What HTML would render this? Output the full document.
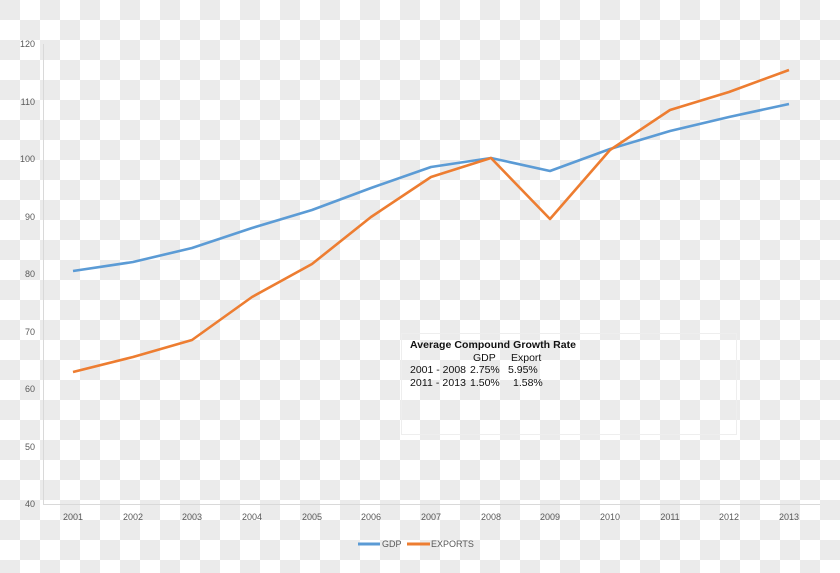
<!DOCTYPE html>
<html><head><style>
body{margin:0;width:840px;height:573px;overflow:hidden;
background:repeating-conic-gradient(#ffffff 0 25%, #ebebeb 0 50%) 0 0/40px 40px;}
svg{position:absolute;left:0;top:0}
</style></head><body>
<svg width="840" height="573" font-family="Liberation Sans, sans-serif">
<g stroke="#d9d9d9" stroke-width="1" fill="none">
<line x1="43.5" y1="44" x2="43.5" y2="504"/>
<line x1="43" y1="504.5" x2="820" y2="504.5"/>
<rect x="401.5" y="333.5" width="335" height="101" stroke="#eeeeee"/>
</g>
<g font-size="9" fill="#595959" text-anchor="end">
<text x="35" y="47">120</text><text x="35" y="105">110</text><text x="35" y="162">100</text>
<text x="35" y="220">90</text><text x="35" y="277">80</text><text x="35" y="335">70</text>
<text x="35" y="392">60</text><text x="35" y="450">50</text><text x="35" y="507">40</text>
</g>
<g font-size="9" fill="#595959" text-anchor="middle">
<text x="73" y="520">2001</text><text x="133" y="520">2002</text><text x="192" y="520">2003</text>
<text x="252" y="520">2004</text><text x="312" y="520">2005</text><text x="371" y="520">2006</text>
<text x="431" y="520">2007</text><text x="491" y="520">2008</text><text x="550" y="520">2009</text>
<text x="610" y="520">2010</text><text x="670" y="520">2011</text><text x="729" y="520">2012</text>
<text x="789" y="520">2013</text>
</g>
<polyline fill="none" stroke="#5b9bd5" stroke-width="2.6" stroke-linejoin="round" points="73,271 133,262 192,248 252,228 312,210 371,188 431,167 491,158 550,171 610,149 670,131 729,117 789,104"/>
<polyline fill="none" stroke="#ed7d31" stroke-width="2.6" stroke-linejoin="round" points="73,372 133,357 192,340 252,297 312,264 371,217 431,177 491,158 550,219 610,150 670,110 729,92 789,70"/>
<g font-size="10.5" fill="#111">
<text x="410" y="348" font-weight="bold" textLength="166">Average Compound Growth Rate</text>
<text x="473" y="361">GDP</text><text x="511" y="361">Export</text>
<text x="410" y="373" textLength="56">2001 - 2008</text><text x="470" y="373">2.75%</text><text x="508" y="373">5.95%</text>
<text x="410" y="386" textLength="56">2011 - 2013</text><text x="470" y="386">1.50%</text><text x="513" y="386">1.58%</text>
</g>
<line x1="358" y1="544" x2="380" y2="544" stroke="#5b9bd5" stroke-width="3"/>
<text x="382" y="547" font-size="9" fill="#595959">GDP</text>
<line x1="407" y1="544" x2="430" y2="544" stroke="#ed7d31" stroke-width="3"/>
<text x="431" y="547" font-size="9" fill="#595959">EXPORTS</text>
</svg>
</body></html>
